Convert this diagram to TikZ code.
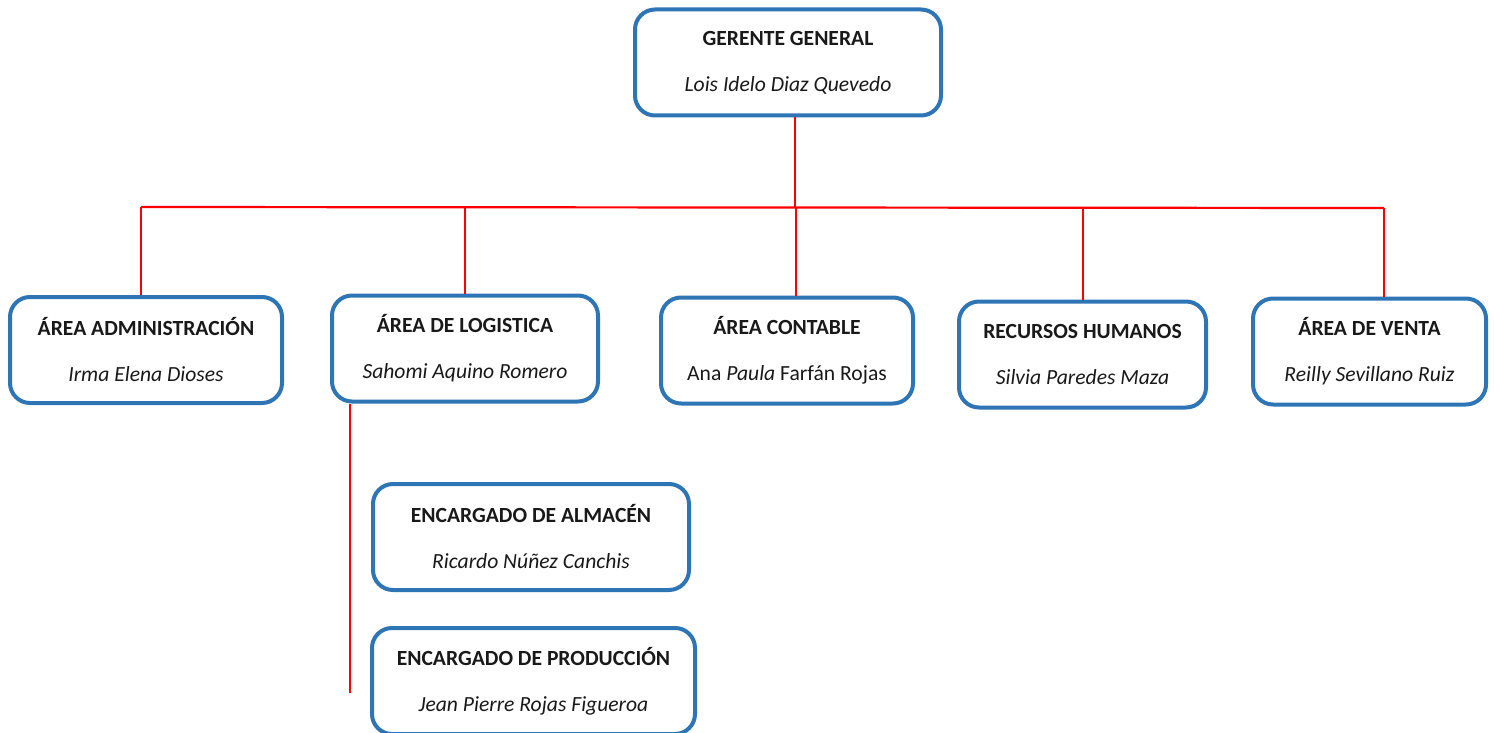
\documentclass[tikz,border=0pt]{standalone}
\usepackage{fontspec}
\setmainfont{Carlito}
\definecolor{boxblue}{RGB}{46,117,182}
\newcommand{\cargo}[1]{\textbf{#1}}
\newcommand{\nombre}[1]{\textit{#1}}

\begin{document}
\begin{tikzpicture}[x=0.5pt,y=-0.5pt,
   puesto/.style={draw=boxblue,line width=2pt,rounded corners=10pt,fill=white,
                  align=center,inner sep=0pt,text=black!90,
                  font=\fontsize{10.8}{23}\selectfont,minimum height=53pt},
   enlace/.style={draw=red,line width=1.1pt}]
   \useasboundingbox (0,0) rectangle (1494,733);
   % jefatura
   \node[puesto,minimum width=153pt] (gerente) at (788,62.5) {\cargo{GERENTE GENERAL}\\\nombre{Lois Idelo Diaz Quevedo}};
   % areas
   \node[puesto,minimum width=136pt] (admin)    at (146,350)    {\cargo{ÁREA ADMINISTRACIÓN}\\\nombre{Irma Elena Dioses}};
   \node[puesto,minimum width=133pt] (logist)   at (465,348.5)  {\cargo{ÁREA DE LOGISTICA}\\\nombre{Sahomi Aquino Romero}};
   \node[puesto,minimum width=126pt] (contable) at (787,350.5)  {\cargo{ÁREA CONTABLE}\\Ana \nombre{Paula} Farfán Rojas};
   \node[puesto,minimum width=123.5pt] (rrhh)   at (1082.5,354.5) {\cargo{RECURSOS HUMANOS}\\\nombre{Silvia Paredes Maza}};
   \node[puesto,minimum width=116.5pt] (venta)  at (1369.5,351.5) {\cargo{ÁREA DE VENTA}\\\nombre{Reilly Sevillano Ruiz}};
   % logistica
   \node[puesto,minimum width=158pt] (almacen)  at (531,537)    {\cargo{ENCARGADO DE ALMACÉN}\\\nombre{Ricardo Núñez Canchis}};
   \node[puesto,minimum width=161.5pt] (produc) at (533.5,681)  {\cargo{ENCARGADO DE PRODUCCIÓN}\\\nombre{Jean Pierre Rojas Figueroa}};
   % lineas
   \coordinate (barra) at (795,207);
   \coordinate (finlog) at (350,693);
   \draw[enlace] (795,0 |- gerente.south) -- (barra);
   \draw[enlace] (141,207) -- (1384,208);
   \draw[enlace] (141,207) -- (141,0 |- admin.north);
   \draw[enlace] (465,207) -- (logist.north);
   \draw[enlace] (796,207) -- (796,0 |- contable.north);
   \draw[enlace] (1083,208) -- (1083,0 |- rrhh.north);
   \draw[enlace] (1384,208) -- (1384,0 |- venta.north);
   \draw[enlace] (350,0 |- logist.south) -- (finlog);
\end{tikzpicture}
\end{document}
